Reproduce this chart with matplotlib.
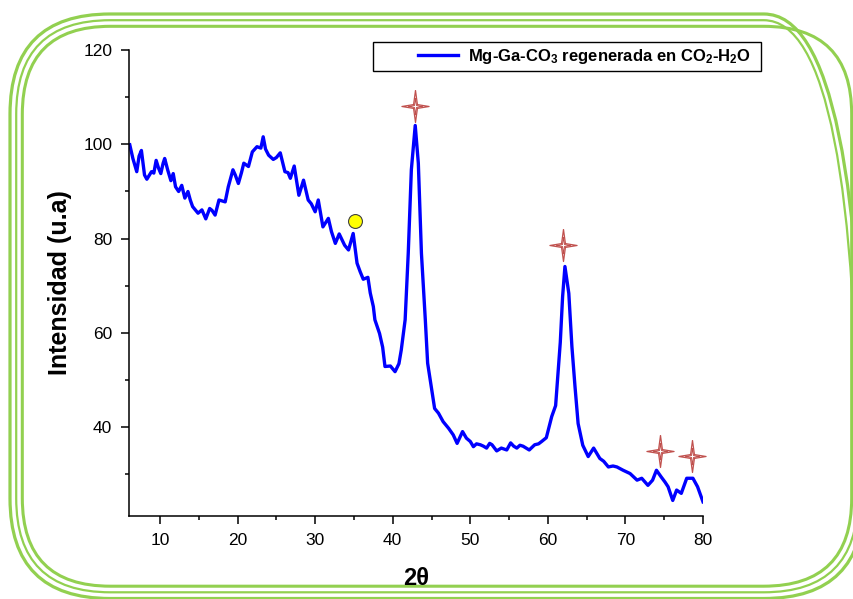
import numpy as np
import matplotlib
matplotlib.use("Agg")
import matplotlib.pyplot as plt
from matplotlib.path import Path
from matplotlib.patches import FancyBboxPatch
from matplotlib.lines import Line2D
from matplotlib.legend_handler import HandlerTuple

plt.rcParams['font.family'] = ['Liberation Sans', 'DejaVu Sans']
plt.rcParams['mathtext.fontset'] = 'custom'
plt.rcParams['mathtext.bf'] = 'Liberation Sans:bold'
plt.rcParams['mathtext.rm'] = 'Liberation Sans:bold'
plt.rcParams['mathtext.default'] = 'bf'

#%% diffractogram
two_theta = [6.1, 6.5, 7.0, 7.3, 7.6, 8.0, 8.3, 8.9, 9.2, 9.5, 9.8, 10.1, 10.4, 10.6,
             11.0, 11.4, 11.7, 12.0, 12.4, 12.8, 13.2, 13.6, 13.9, 14.2, 14.6, 14.9,
             15.4, 15.9, 16.4, 16.7, 17.1, 17.6, 18.0, 18.4, 18.8, 19.4, 19.7, 20.1,
             20.5, 20.8, 21.4, 21.9, 22.5, 23.0, 23.3, 23.6, 24.0, 24.6, 25.0, 25.5,
             26.1, 26.5, 26.8, 27.3, 27.9, 28.5, 29.1, 29.5, 30.0, 30.4, 31.0, 31.7,
             32.1, 32.6, 33.1, 33.8, 34.3, 34.9, 35.4, 35.8, 36.2, 36.8, 37.1, 37.5,
             37.7, 38.3, 38.7, 39.0, 39.7, 40.3, 40.8, 41.1, 41.6, 42.0, 42.4, 42.9,
             43.3, 43.7, 44.2, 44.5, 44.9, 45.4, 45.9, 46.5, 47.2, 47.8, 48.3, 49.0,
             49.5, 50.0, 50.4, 50.8, 51.3, 51.7, 52.1, 52.5, 52.8, 53.4, 54.0, 54.7,
             55.2, 55.6, 56.0, 56.4, 56.8, 57.2, 57.6, 58.3, 58.8, 59.2, 59.8, 60.5,
             61.0, 61.6, 61.9, 62.2, 62.7, 63.1, 63.5, 63.9, 64.5, 65.2, 65.9, 66.7,
             67.2, 67.8, 68.4, 68.9, 69.7, 70.6, 71.5, 72.1, 72.9, 73.5, 74.0, 74.6,
             75.1, 75.5, 76.1, 76.6, 77.2, 77.9, 78.7, 79.3, 80.0]
intensity = [99.9, 97.0, 94.2, 97.5, 98.7, 93.5, 92.6, 94.2, 93.9, 96.6, 95.0, 93.8, 96.0, 97.0,
             94.5, 92.3, 93.8, 91.0, 90.0, 91.3, 88.6, 90.0, 88.2, 86.8, 86.0, 85.4,
             86.1, 84.2, 86.4, 86.0, 85.0, 88.2, 88.0, 87.8, 91.0, 94.6, 93.5, 91.7,
             94.0, 96.0, 95.3, 98.4, 99.5, 99.2, 101.6, 99.0, 97.7, 96.8, 97.2, 98.2,
             94.2, 94.0, 92.8, 95.4, 89.2, 92.4, 88.2, 87.4, 85.7, 88.2, 82.5, 84.3,
             81.5, 79.0, 81.0, 78.6, 77.6, 81.1, 74.8, 73.0, 71.4, 71.8, 68.5, 65.6,
             62.8, 59.9, 57.0, 52.9, 53.0, 51.8, 53.5, 56.4, 62.8, 76.9, 94.6, 104.0,
             96.0, 76.9, 62.8, 53.6, 49.3, 44.0, 43.0, 41.2, 39.8, 38.4, 36.6, 39.1,
             37.7, 37.0, 35.9, 36.5, 36.3, 36.0, 35.6, 36.6, 36.3, 35.0, 35.6, 35.2,
             36.7, 36.0, 35.6, 36.2, 36.0, 35.6, 35.2, 36.3, 36.5, 37.0, 37.8, 42.3,
             44.6, 58.0, 67.7, 74.1, 68.4, 57.1, 48.6, 40.8, 36.2, 33.8, 35.6, 33.4,
             32.8, 31.6, 31.8, 31.6, 30.9, 30.2, 28.8, 29.2, 27.7, 28.8, 30.9, 29.5,
             28.4, 27.4, 24.5, 26.7, 26.0, 29.2, 29.2, 27.4, 24.2]

# phase markers
star_x = [42.86, 62.0, 74.4, 78.6]
star_y = [108.1, 78.7, 35.0, 33.9]
circle_x = [35.2]
circle_y = [83.8]

W, H = 854, 599
fig = plt.figure(figsize=(W / 100, H / 100), dpi=100)

# rounded green frame, three strokes, in pixel units (y measured from the top)
frame = fig.add_axes([0, 0, 1, 1])
frame.set_xlim(0, W)
frame.set_ylim(0, H)
frame.axis('off')
green = '#92d050'
for inset, r, lw in [(10, 100, 2.3), (16.2, 94, 1.6), (22.3, 88, 2.2)]:
    left = inset
    top = inset + 4
    right = 874 - inset
    bottom = 608.5 - inset
    frame.add_patch(FancyBboxPatch((left, H - bottom), right - left, bottom - top,
                                   boxstyle="round,pad=0,rounding_size=%g" % r,
                                   fc='none', ec=green, lw=lw, clip_on=False))

ax = fig.add_axes([129 / W, 1 - 516 / H, (703 - 129) / W, (516 - 50) / H])
ax.patch.set_alpha(0)
line, = ax.plot(two_theta, intensity, color='#0000ff', lw=2.4)

# four-pointed star marker, outline plus inner star
star = Path([(0, 1), (0.12, 0.12), (0.85, 0), (0.12, -0.12), (0, -1),
             (-0.12, -0.12), (-0.85, 0), (-0.12, 0.12), (0, 1)])
ax.plot(star_x, star_y, ls='none', marker=star, ms=23, mfc='white',
        mec='#c0504d', mew=0.9, clip_on=False)
ax.plot(star_x, star_y, ls='none', marker=star, ms=12, mfc='none',
        mec='#c0504d', mew=0.7, clip_on=False)
ax.plot(circle_x, circle_y, ls='none', marker='o', ms=10, mfc='#ffff00',
        mec='#404040', mew=0.8)

ax.set_xlim(6, 80)
ax.set_ylim(21.2, 120)
ax.set_xticks(np.arange(10, 81, 10))
ax.set_xticks(np.arange(15, 80, 10), minor=True)
ax.set_yticks(np.arange(40, 121, 20))
ax.set_yticks(np.arange(30, 120, 20), minor=True)
for s in ['top', 'right']:
    ax.spines[s].set_visible(False)
for s in ['left', 'bottom']:
    ax.spines[s].set_linewidth(1.1)
ax.tick_params(which='major', length=6, width=1.1, labelsize=12.5, pad=6)
ax.tick_params(which='minor', length=3, width=1.1)

ax.set_xlabel('2θ', fontsize=17, fontweight='bold')
ax.set_ylabel('Intensidad (u.a)', fontsize=18, fontweight='bold')
ax.xaxis.set_label_coords(0.5, -0.11)
ax.yaxis.set_label_coords(-0.1, 0.5)

blank = Line2D([], [], color='none')
leg = ax.legend([(blank, line)], ['Mg-Ga-CO$_3$ regenerada en CO$_2$-H$_2$O  '],
                handler_map={tuple: HandlerTuple(ndivide=None, pad=0)},
                loc='upper right', bbox_to_anchor=(761 / W, 1 - 42 / H),
                bbox_transform=fig.transFigure, borderaxespad=0,
                fancybox=False, frameon=True,
                edgecolor='black', framealpha=1, borderpad=0.3,
                handlelength=4.8, handletextpad=0.55,
                prop={'weight': 'bold', 'size': 12})
leg.get_frame().set_linewidth(1.0)

fig.savefig('out.png', dpi=100)
